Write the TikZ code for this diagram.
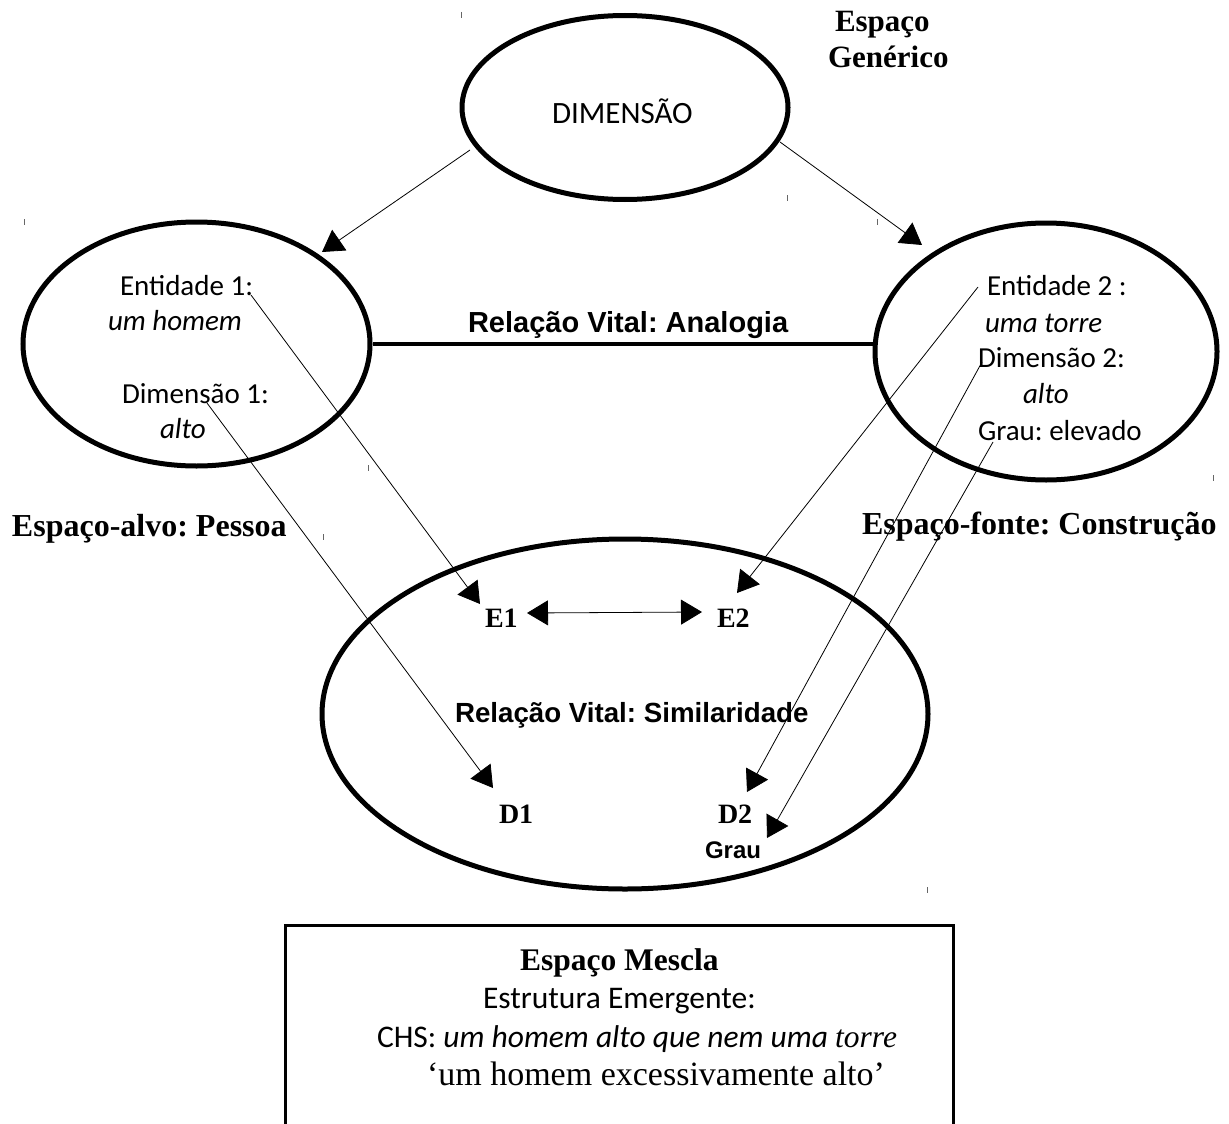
\documentclass[tikz,border=0pt]{standalone}
\usepackage{fontspec}
\setmainfont{Liberation Serif}
\newfontfamily\calibri{Carlito}
\newfontfamily\arialfont{Liberation Sans}
\usetikzlibrary{shapes.geometric,arrows.meta}
\frenchspacing

\begin{document}
\begin{tikzpicture}[x=1pt,y=-1pt,
  space/.style={draw, ellipse, line width=5pt, inner sep=0pt},
  lbl/.style={inner sep=0pt, outer sep=0pt, anchor=base west},
  inner/.style={lbl, font=\calibri\fontsize{29}{35}\selectfont},
  title/.style={lbl, font=\bfseries\fontsize{32}{38}\selectfont},
  rel/.style={lbl, font=\arialfont\bfseries\fontsize{29}{35}\selectfont},
  marker/.style={lbl, font=\bfseries\fontsize{28}{34}\selectfont},
  boxtext/.style={lbl, font=\calibri\fontsize{31.5}{38}\selectfont},
  link/.style={line width=0.8pt, -{Triangle[length=21pt,width=25pt]}},
  bilink/.style={line width=0.8pt, {Triangle[length=21pt,width=25pt]}-{Triangle[length=21pt,width=25pt]}},
  tick/.style={line width=0.8pt, black!60}
]
\fill[white] (0,0) rectangle (1229,1124);
\useasboundingbox (0,0) rectangle (1229,1124);

% --- the four mental spaces ---
\node[space, minimum width=326pt, minimum height=184pt] (generic) at (625,107.5) {};
\node[space, minimum width=347pt, minimum height=244pt] (target) at (196.5,344) {};
\node[space, minimum width=342pt, minimum height=257pt] (source) at (1046,351.5) {};
\node[space, minimum width=606pt, minimum height=350pt] (blend) at (625,714) {};

% generic space
\node[lbl, font=\calibri\fontsize{31}{37}\selectfont] (dim) at (552,123) {DIMENSÃO};
\node[lbl, font=\bfseries\fontsize{31}{37}\selectfont] (gen1) at (835,32) {Espaço};
\node[lbl, font=\bfseries\fontsize{31}{37}\selectfont] (gen2) at (828,67) {Genérico};

% target space
\node[inner] (ent1) at (120,295) {Entidade 1:};
\node[inner, font=\calibri\itshape\fontsize{29}{35}\selectfont] (ent1v) at (108,330) {um homem};
\node[inner] (dim1) at (122,403) {Dimensão 1:};
\node[inner, font=\calibri\itshape\fontsize{29}{35}\selectfont] (dim1v) at (160,438) {alto};
\node[title] (tgtlbl) at (12,536) {Espaço-alvo: Pessoa};

% source space
\node[inner] (ent2) at (987,295) {Entidade 2 :};
\node[inner, font=\calibri\itshape\fontsize{29}{35}\selectfont] (ent2v) at (985,332) {uma torre};
\node[inner] (dim2) at (978,367) {Dimensão 2:};
\node[inner, font=\calibri\itshape\fontsize{29}{35}\selectfont] (dim2v) at (1023,403) {alto};
\node[inner] (grau2) at (978,440) {Grau: elevado};
\node[title] (srclbl) at (862,534) {Espaço-fonte: Construção};

% analogy between the input spaces
\draw[line width=3.5pt] (target.east) -- (target.east -| source.west);
\node[rel] (analogia) at (468,332) {Relação Vital: Analogia};

% blended elements
\node[marker] (e1) at (485,627) {E1};
\node[marker] (e2) at (717,627) {E2};
\node[lbl, font=\arialfont\bfseries\fontsize{27.7}{33}\selectfont] (simil) at (455,722) {Relação Vital: Similaridade};
\node[marker] (d1) at (499,823) {D1};
\node[marker] (d2) at (718,823) {D2};
\node[lbl, font=\arialfont\bfseries\fontsize{24}{29}\selectfont] (graub) at (705,858) {Grau};

% connector end points
\coordinate (gL) at (470,150);
\coordinate (tL) at (322,252);
\coordinate (gR) at (780,142);
\coordinate (tR) at (922,245);
\coordinate (sE1) at (251,295);
\coordinate (tE1) at (480,604);
\coordinate (sD1) at (207,403);
\coordinate (tD1) at (493,788);
\coordinate (sE2) at (978,287);
\coordinate (tE2) at (737,593);
\coordinate (sD2) at (982,362);
\coordinate (tD2) at (747,792);
\coordinate (sG) at (993,442);
\coordinate (tG) at (767,838);
\coordinate (aL) at (527,613);
\coordinate (aR) at (702,612);

% projections
\draw[link] (gL) -- (tL);
\draw[link] (gR) -- (tR);
\draw[link] (sE1) -- (tE1);
\draw[link] (sD1) -- (tD1);
\draw[link] (sE2) -- (tE2);
\draw[link] (sD2) -- (tD2);
\draw[link] (sG) -- (tG);
\draw[bilink] (aL) -- (aR);

% blended space box
\draw[line width=3pt] (285,1130) -- (285,925) -- (953,925) -- (953,1130);
\node[lbl, font=\bfseries\fontsize{31.5}{38}\selectfont] (mescla) at (520,970) {Espaço Mescla};
\node[boxtext] (emerg) at (483,1008) {Estrutura Emergente:};
\node[boxtext] (chs) at (377,1047) {CHS: {\itshape um homem alto que nem uma }{\rmfamily\itshape torre}};
\node[lbl, font=\fontsize{34}{40}\selectfont] (gloss) at (427,1085) {‘um homem excessivamente alto’};

% small stray marks
\foreach \px/\py in {461/15, 24/222, 787/198, 877/222, 368/468, 323/537, 1213/478, 927/890}
  \draw[tick] (\px,\py-3) -- (\px,\py+3);
\end{tikzpicture}
\end{document}
